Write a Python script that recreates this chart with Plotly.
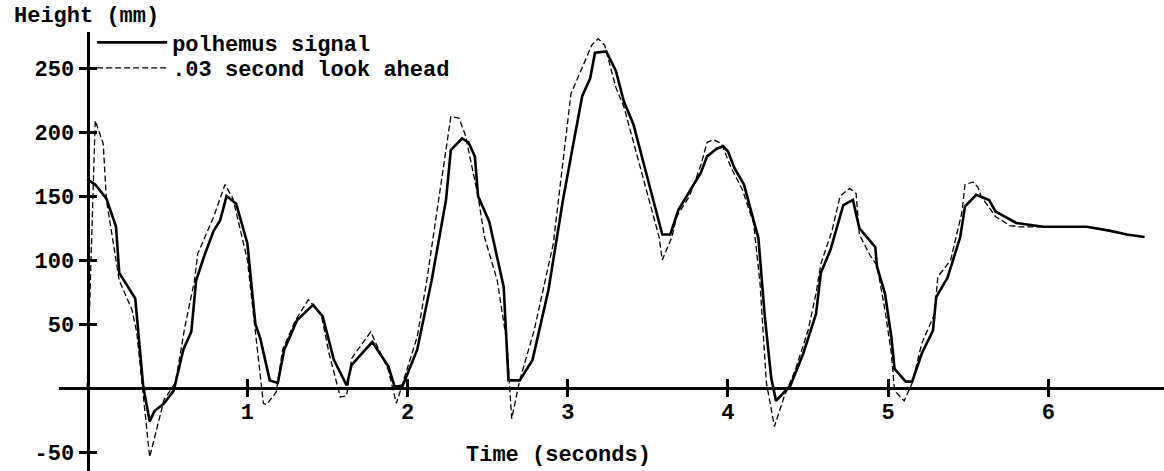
import plotly.graph_objects as go

# ---- data ----
pol_t = [0.00, 0.05, 0.12, 0.18, 0.20, 0.30, 0.35, 0.39, 0.42, 0.48, 0.54, 0.60, 0.65, 0.68,
         0.73, 0.79, 0.83, 0.87, 0.93, 1.00, 1.05, 1.08, 1.14, 1.19, 1.23, 1.31, 1.41, 1.47,
         1.54, 1.62, 1.65, 1.71, 1.78, 1.88, 1.92, 1.97, 2.06, 2.15, 2.24, 2.27, 2.34, 2.38,
         2.42, 2.44, 2.51, 2.60, 2.63, 2.70, 2.78, 2.88, 2.97, 3.02, 3.09, 3.14, 3.17, 3.24,
         3.30, 3.35, 3.41, 3.59, 3.64, 3.69, 3.77, 3.83, 3.87, 3.93, 3.97, 4.00, 4.04, 4.10,
         4.19, 4.23, 4.27, 4.30, 4.39, 4.47, 4.55, 4.58, 4.64, 4.72, 4.78, 4.82, 4.92, 4.93,
         4.98, 5.02, 5.04, 5.11, 5.15, 5.21, 5.28, 5.30, 5.37, 5.45, 5.48, 5.55, 5.63, 5.67,
         5.80, 5.97, 6.24, 6.38, 6.49, 6.60]
pol_v = [163, 159, 148, 126, 90, 70, 1, -26, -18, -12, -2, 30, 44, 84,
         103, 123, 131, 150, 144, 113, 50, 39, 6, 4, 30, 53, 65, 56,
         22, 2, 18, 26, 36, 17, 1, 2, 30, 84, 147, 186, 195, 192,
         181, 150, 130, 79, 6, 6, 22, 77, 147, 181, 228, 242, 262, 263,
         248, 224, 206, 120, 120, 139, 155, 168, 181, 187, 189, 185, 172, 159,
         117, 56, 8, -10, 2, 27, 58, 90, 108, 143, 147, 125, 110, 95,
         74, 40, 15, 5, 5, 27, 45, 71, 86, 118, 142, 151, 147, 138,
         129, 126, 126, 123, 120, 118]

look_t = [0.00, 0.03, 0.05, 0.10, 0.12, 0.20, 0.28, 0.31, 0.39, 0.48, 0.55, 0.61, 0.67, 0.69,
          0.79, 0.86, 0.91, 1.00, 1.05, 1.10, 1.12, 1.18, 1.22, 1.30, 1.38, 1.46, 1.51, 1.58,
          1.62, 1.65, 1.77, 1.88, 1.93, 1.99, 2.06, 2.12, 2.21, 2.27, 2.32, 2.36, 2.44, 2.48,
          2.56, 2.62, 2.65, 2.70, 2.79, 2.91, 3.02, 3.15, 3.19, 3.23, 3.30, 3.35, 3.57, 3.59,
          3.65, 3.68, 3.76, 3.83, 3.87, 3.91, 3.96, 4.02, 4.09, 4.16, 4.20, 4.24, 4.29, 4.35,
          4.42, 4.50, 4.55, 4.58, 4.65, 4.70, 4.76, 4.80, 4.82, 4.89, 4.93, 4.98, 5.02, 5.04,
          5.10, 5.15, 5.21, 5.29, 5.31, 5.39, 5.46, 5.48, 5.53, 5.56, 5.58, 5.67, 5.76, 5.82,
          5.97, 6.24, 6.38, 6.49, 6.60]
look_v = [0, 130, 209, 191, 147, 84, 61, 43, -54, -9, 4, 48, 84, 105,
          134, 159, 148, 100, 43, -12, -13, -3, 30, 53, 69, 58, 27, -7,
          -6, 23, 44, 14, -12, 12, 40, 84, 160, 212, 211, 198, 150, 118,
          84, 35, -24, 6, 45, 113, 230, 268, 273, 268, 235, 220, 118, 100,
          118, 134, 150, 174, 192, 194, 191, 172, 155, 129, 82, 4, -30, -7,
          14, 45, 74, 97, 123, 150, 156, 152, 120, 103, 96, 61, 27, -2,
          -10, 4, 35, 58, 87, 100, 137, 159, 161, 157, 150, 134, 127, 126,
          126, 126, 123, 120, 118]

x_ticks = [1, 2, 3, 4, 5, 6]
x_labels = ["1", "2", "3", "4", "5", "6"]
y_ticks = [-50, 50, 100, 150, 200, 250]
y_labels = ["-50", "50", "100", "150", "200", "250"]

series_names = ["polhemus signal", ".03 second look ahead"]
y_title = "Height (mm)"
x_title = "Time (seconds)"

# ---- figure ----
FONT = dict(family="Liberation Mono, Courier New, monospace", size=22, color="black", weight="bold")
X_RANGE = [-0.176, 6.722]
Y_RANGE = [-64.8, 278.2]
X_POS = 0.0258   # where t = 0 sits along the x domain
Y_POS = 0.189    # where height = 0 sits along the y domain

fig = go.Figure()
fig.add_trace(go.Scatter(x=pol_t, y=pol_v, mode="lines", name=series_names[0],
                         line=dict(color="black", width=2.6), hoverinfo="skip",
                         legend="legend"))
fig.add_trace(go.Scatter(x=look_t, y=look_v, mode="lines", name=series_names[1],
                         line=dict(color="black", width=1.3, dash="6px,3px"), hoverinfo="skip",
                         legend="legend2"))
# empty helper trace so the overlay axes (other half of the cross ticks) are drawn
fig.add_trace(go.Scatter(x=[None], y=[None], xaxis="x2", yaxis="y2", showlegend=False,
                         hoverinfo="skip"))

common_x = dict(range=X_RANGE, anchor="free", position=Y_POS, showgrid=False, zeroline=False,
                tickvals=x_ticks, ticktext=x_labels, tickcolor="black", tickwidth=3, ticklen=8,
                automargin=False, fixedrange=True)
common_y = dict(range=Y_RANGE, anchor="free", position=X_POS, showgrid=False, zeroline=False,
                tickvals=y_ticks, ticktext=y_labels, tickcolor="black", tickwidth=3, ticklen=8,
                automargin=False, fixedrange=True)

LEG = dict(xanchor="left", yanchor="middle", bgcolor="rgba(0,0,0,0)", font=FONT,
           tracegroupgap=0, itemwidth=70, borderwidth=0)

fig.update_layout(
    width=1164, height=471,
    margin=dict(l=59, r=0, t=32, b=0, autoexpand=False),
    paper_bgcolor="white", plot_bgcolor="white",
    font=FONT,
    xaxis=dict(**common_x, showline=True, linecolor="black", linewidth=3, ticks="inside",
               tickfont=FONT, ticklabelstandoff=3),
    xaxis2=dict(**common_x, overlaying="x", showline=False, ticks="outside", showticklabels=False),
    yaxis=dict(**common_y, showline=True, linecolor="black", linewidth=3, ticks="outside",
               tickfont=FONT),
    yaxis2=dict(**common_y, overlaying="y", showline=False, ticks="inside", showticklabels=False),
    legend=dict(x=0.030, y=0.976, **LEG),
    legend2=dict(x=0.030, y=0.918, **LEG),
    showlegend=True,
    annotations=[
        dict(text=y_title, xref="paper", yref="paper", x=-0.0428, y=1.036,
             xanchor="left", yanchor="middle", showarrow=False, font=FONT),
        dict(text=x_title, xref="paper", yref="paper", x=0.4516, y=0.0342,
             xanchor="center", yanchor="middle", showarrow=False, font=FONT),
    ],
)

fig.write_html("out.html", config={"displayModeBar": False, "staticPlot": True},
               post_script="document.body.style.margin='0';")
